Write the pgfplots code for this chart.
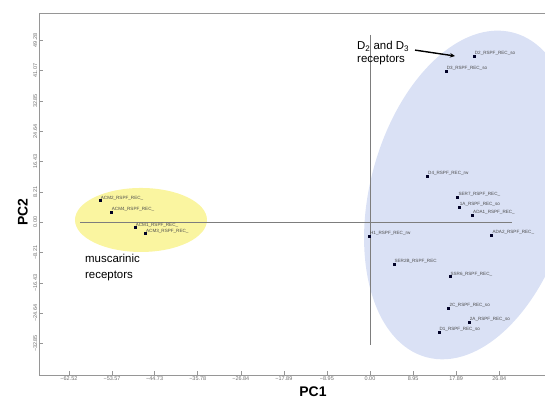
\documentclass[border=0pt]{standalone}
\usepackage{fontspec}
\setmainfont{Liberation Sans}
\usepackage{pgfplots}
\usepackage{pgfplotstable}
\pgfplotsset{compat=1.18}
\usetikzlibrary{arrows.meta}
\definecolor{ellY}{RGB}{250,245,160}
\definecolor{ellB}{RGB}{218,225,245}
\definecolor{zline}{RGB}{125,125,125}
\definecolor{frame}{RGB}{150,150,150}
\definecolor{ticktext}{RGB}{110,110,110}

\pgfplotstableread{
x y label
-56.07 5.82 ACM2\_RSPF\_REC\_
-53.79 2.84 ACM4\_RSPF\_REC\_
-48.81 -1.49 ACM1\_RSPF\_REC\_
-46.67 -3.11 ACM3\_RSPF\_REC\_
21.60 45.00 D2\_RSPF\_REC\_so
15.78 40.94 D3\_RSPF\_REC\_so
11.90 12.51 D4\_RSPF\_REC\_rw
18.21 6.90 SER7\_RSPF\_REC\_
18.48 4.03 1A\_RSPF\_REC\_so
21.25 1.87 ADA1\_RSPF\_REC\_
-0.15 -3.74 H1\_RSPF\_REC\_rw
25.27 -3.55 ADA2\_RSPF\_REC\_
4.92 -11.40 SER2B\_RSPF\_REC
16.55 -14.76 SSR6\_RSPF\_REC\_
16.34 -23.23 2C\_RSPF\_REC\_so
20.56 -27.02 2A\_RSPF\_REC\_so
14.27 -29.73 D1\_RSPF\_REC\_so
}\pts

\begin{document}
\begin{tikzpicture}
\begin{axis}[
  scale only axis, width=506bp, height=362bp,
  xmin=-68.74, xmax=36.34, ymin=-41.38, ymax=56.65,
  clip=false,
  axis line style={draw=none},
  tick align=inside, xtick pos=left, ytick pos=left,
  major tick length=4bp,
  tick style={frame, line width=0.5bp},
  xtick={-62.52,-53.57,-44.73,-35.78,-26.84,-17.89,-8.95,0,8.95,17.89,26.84},
  xticklabels={−62.52,−53.57,−44.73,−35.78,−26.84,−17.89,−8.95,0.00,8.95,17.89,26.84},
  ytick={-32.85,-24.64,-16.43,-8.21,0,8.21,16.43,24.64,32.85,41.07,49.28},
  yticklabels={−32.85,−24.64,−16.43,−8.21,0.00,8.21,16.43,24.64,32.85,41.07,49.28},
  xticklabel style={font=\fontsize{5.5}{6}\selectfont, text=ticktext, anchor=north, inner sep=1.5bp},
  yticklabel style={font=\fontsize{5.5}{6}\selectfont, text=ticktext, rotate=90, anchor=south, inner sep=1.5bp},
  xlabel={PC1}, ylabel={PC2},
  xlabel style={at={(ticklabel cs:0.5415,3bp)}, anchor=north, font=\fontsize{14}{16}\selectfont\bfseries, inner sep=1bp},
  ylabel style={at={(ticklabel cs:0.45,3bp)}, font=\fontsize{14}{16}\selectfont\bfseries, inner sep=1bp},
]
% ellipses
\fill[ellY] (axis cs:-47.56,0.6) ellipse [x radius=66bp, y radius=32bp];
\fill[ellB, rotate around={-15:(axis cs:20.77,7.37)}] (axis cs:20.77,7.37) ellipse [x radius=100bp, y radius=168bp];
% frame
\draw[frame, line width=0.7bp] (rel axis cs:1,1) -- (rel axis cs:0,1) -- (rel axis cs:0,0) -- (rel axis cs:1,0);
% zero lines
\draw[zline, line width=0.8bp] (axis cs:-60.2,0) -- (axis cs:29.5,0);
\draw[zline, line width=0.8bp] (axis cs:0,50.7) -- (axis cs:0,-33.2);
% points
\addplot[only marks, mark=square*, mark size=1bp, mark options={fill=black!85!blue, draw=black!85!blue},
  nodes near coords, point meta=explicit symbolic,
  nodes near coords style={font=\fontsize{4.6}{5}\selectfont, text=black!70, anchor=south west, inner sep=0.4bp, xshift=0.3bp}]
  table[x=x, y=y, meta=label] {\pts};
% annotations
\node[anchor=west, font=\fontsize{11.5}{13}\selectfont, inner sep=0] at (axis cs:-59.2,-9.69) {muscarinic};
\node[anchor=west, font=\fontsize{11.5}{13}\selectfont, inner sep=0] at (axis cs:-59.2,-14.57) {receptors};
\node[anchor=west, font=\fontsize{11.5}{13}\selectfont, inner sep=0] at (axis cs:-2.7,47.7) {D\textsubscript{2} and D\textsubscript{3}};
\node[anchor=west, font=\fontsize{11.5}{13}\selectfont, inner sep=0] at (axis cs:-2.7,43.8) {receptors};
\draw[-{Stealth[length=5bp,width=4.5bp]}, line width=1.4bp] (axis cs:9.35,46.6) -- (axis cs:17.65,45.0);
\end{axis}
\pgfresetboundingbox
\path[use as bounding box] (-39bp,-23bp) rectangle (506bp,375bp);
\end{tikzpicture}
\end{document}
